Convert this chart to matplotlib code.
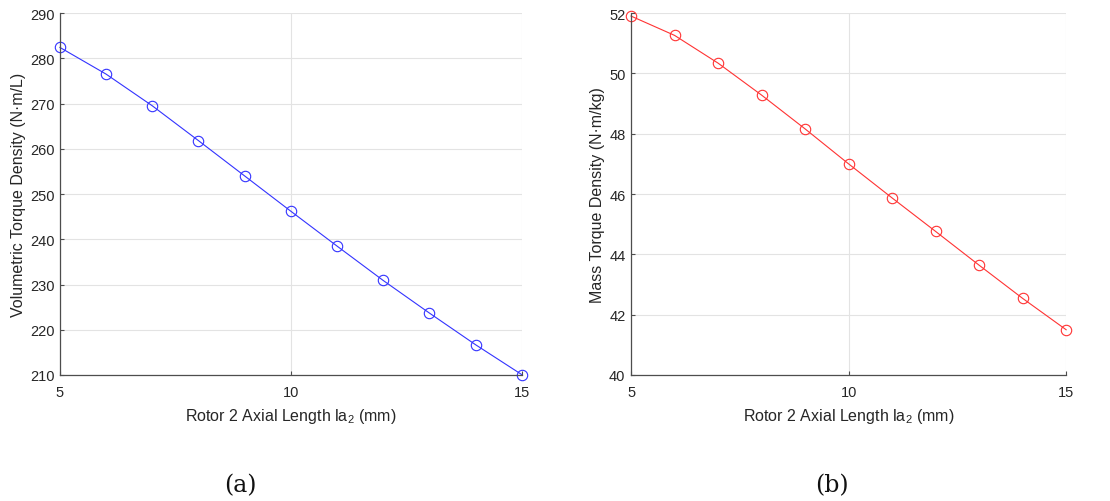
#!/usr/bin/env python3
"""
Torque density vs rotor 2 axial length, two panels (a) and (b).
"""

import matplotlib
matplotlib.use("Agg")
import matplotlib.pyplot as plt

# data
la2 = [5, 6, 7, 8, 9, 10, 11, 12, 13, 14, 15]
vol_density = [282.4, 276.5, 269.5, 261.8, 254.0, 246.2, 238.5, 230.9, 223.7, 216.7, 210.1]
mass_density = [51.9, 51.26, 50.34, 49.28, 48.16, 47.0, 45.87, 44.76, 43.64, 42.54, 41.5]

xticks = [5, 10, 15]
vol_ticks = [210, 220, 230, 240, 250, 260, 270, 280, 290]
mass_ticks = [40, 42, 44, 46, 48, 50, 52]

XLABEL = "Rotor 2 Axial Length la$_2$ (mm)"
TXT = "#262626"

plt.rcParams["font.family"] = ["Liberation Sans", "DejaVu Sans"]
plt.rcParams["mathtext.fontset"] = "custom"
plt.rcParams["mathtext.rm"] = "Liberation Sans"
plt.rcParams["mathtext.it"] = "Liberation Sans"


def style(ax, yticks, ylabel):
    ax.set_xlim(5, 15)
    ax.set_ylim(yticks[0], yticks[-1])
    ax.set_xticks(xticks)
    ax.set_yticks(yticks)
    ax.grid(True, color="#e3e3e3", linewidth=0.8)
    ax.set_axisbelow(True)
    for s in ("top", "right"):
        ax.spines[s].set_visible(False)
    for s in ("left", "bottom"):
        ax.spines[s].set_color("#4d4d4d")
        ax.spines[s].set_linewidth(0.9)
    ax.tick_params(direction="in", length=3, colors="#4d4d4d",
                   labelcolor=TXT, labelsize=10.5, pad=4)
    ax.tick_params(axis="x", pad=7)
    ax.set_xlabel(XLABEL, fontsize=11.5, color=TXT, labelpad=5)
    ax.set_ylabel(ylabel, fontsize=11.5, color=TXT, labelpad=3)


fig = plt.figure(figsize=(11.1, 5.02), dpi=100)

ax1 = fig.add_axes([0.054, 0.251, 0.416, 0.721])
ax1.plot(la2, vol_density, color="#3333ff", linewidth=0.8, marker="o",
         markersize=7.5, markerfacecolor="none", markeredgewidth=0.8, clip_on=False)
style(ax1, vol_ticks, "Volumetric Torque Density (N·m/L)")

ax2 = fig.add_axes([0.5685, 0.251, 0.392, 0.721])
ax2.plot(la2, mass_density, color="#ff3333", linewidth=0.8, marker="o",
         markersize=7.5, markerfacecolor="none", markeredgewidth=0.8, clip_on=False)
style(ax2, mass_ticks, "Mass Torque Density (N·m/kg)")

fig.text(240 / 1110, 1 - 486 / 502, "(a)", ha="center", va="center",
         fontsize=17, family="DejaVu Serif", color="#111111")
fig.text(832 / 1110, 1 - 486 / 502, "(b)", ha="center", va="center",
         fontsize=17, family="DejaVu Serif", color="#111111")

fig.savefig("out.png", dpi=100)
plt.close(fig)
